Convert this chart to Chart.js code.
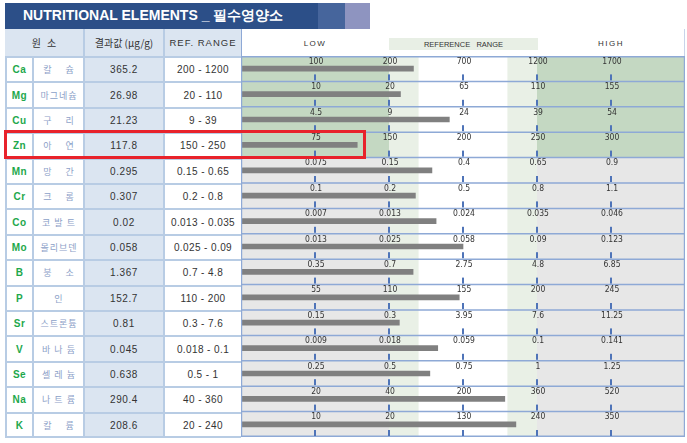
<!DOCTYPE html>
<html>
<head>
<meta charset="utf-8">
<script src="https://cdn.jsdelivr.net/npm/chart.js@4/dist/chart.umd.min.js"></script>
<style>
body{margin:0;background:#fff;width:687px;height:443px;position:relative;overflow:hidden;font-family:"Liberation Sans",Arial,sans-serif;}
.abs{position:absolute;box-sizing:border-box;}
.cell{position:absolute;box-sizing:border-box;display:flex;align-items:center;justify-content:center;white-space:pre;}
</style>
</head>
<body>
<div id="page"></div>
<canvas id="canvas" width="444" height="381" style="position:absolute;left:241px;top:56px;"></canvas>
<div class="abs" style="left:4px;top:130px;width:362px;height:29px;border:3px solid #e8222b;"></div>
<script>
// element rows
var symbols = ['Ca','Mg','Cu','Zn','Mn','Cr','Co','Mo','B','P','Sr','V','Se','Na','K'];
var names = ['칼슘','마그네슘','구리','아연','망간','크롬','코발트','몰리브덴','붕소','인','스트론튬','바나듐','셀레늄','나트륨','칼륨'];
var results = [365.2, 26.98, 21.23, 117.8, 0.295, 0.307, 0.02, 0.058, 1.367, 152.7, 0.81, 0.045, 0.638, 290.4, 208.6];
var ranges = ['200 - 1200','20 - 110','9 - 39','150 - 250','0.15 - 0.65','0.2 - 0.8','0.013 - 0.035','0.025 - 0.09','0.7 - 4.8','110 - 200','0.3 - 7.6','0.018 - 0.1','0.5 - 1','40 - 360','20 - 240'];
// the 5 marks drawn on each row (LOW .. HIGH)
var tickLabels = [
    [100, 200, 700, 1200, 1700],
    [10, 20, 65, 110, 155],
    [4.5, 9, 24, 39, 54],
    [75, 150, 200, 250, 300],
    [0.075, 0.15, 0.4, 0.65, 0.9],
    [0.1, 0.2, 0.5, 0.8, 1.1],
    [0.007, 0.013, 0.024, 0.035, 0.046],
    [0.013, 0.025, 0.058, 0.09, 0.123],
    [0.35, 0.7, 2.75, 4.8, 6.85],
    [55, 110, 155, 200, 245],
    [0.15, 0.3, 3.95, 7.6, 11.25],
    [0.009, 0.018, 0.059, 0.1, 0.141],
    [0.25, 0.5, 0.75, 1, 1.25],
    [20, 40, 200, 360, 520],
    [10, 20, 130, 240, 350]
];
var greenRows = ['Ca','Mg','Cu','Zn'];

// value -> position on the 0..6 axis (piecewise between the row marks)
function toUnit(v, t){
    var stops = [0].concat(t);
    for (var k = 1; k < stops.length; k++){
        if (v <= stops[k]) return (k - 1) + (v - stops[k-1]) / (stops[k] - stops[k-1]);
    }
    var n = stops.length - 1;
    return Math.min(6, n + (v - stops[n]) / (stops[n] - stops[n-1]));
}
var positions = results.map(function(v, i){ return toUnit(v, tickLabels[i]); });

// ---- html table part ----
var page = document.getElementById('page');
function box(x, y, w, h, style, text){
    var d = document.createElement('div');
    d.className = 'cell';
    d.style.cssText += 'left:'+x+'px;top:'+y+'px;width:'+w+'px;height:'+h+'px;' + (style || '');
    if (text !== undefined) d.textContent = text;
    page.appendChild(d);
    return d;
}
// title bar
box(5, 3, 313, 26, 'background:#2c4f88;color:#fff;font-weight:bold;font-size:14px;justify-content:flex-start;padding-left:18px;', 'NUTRITIONAL ELEMENTS _ 필수영양소');
box(318, 3, 27, 26, 'background:#46659c;');
box(345, 3, 25, 26, 'background:#8e94c0;');

// header row
var lineC = '#b8cce4';
var headY = 29, headH = 27;
box(5, headY, 78, headH, 'background:#dbe5f1;font-size:10px;color:#333;letter-spacing:6px;padding-left:6px;font-family:"Noto Sans CJK KR";', '원소');
box(83, headY, 80, headH, 'background:#dbe5f1;font-size:10px;color:#333;border-left:2px solid '+lineC+';font-family:"Noto Sans CJK KR";', '결과값 (μg/g)');
box(163, headY, 78, headH, 'background:#dbe5f1;font-size:9.5px;color:#333;letter-spacing:1px;border-left:2px solid '+lineC+';', 'REF. RANGE');
box(241, headY, 444, headH, 'background:#fff;border-left:1px solid #8ea9d6;border-right:1px solid #c8d4ea;');
box(389, 38, 149, 12, 'background:#e8efe5;font-size:7.5px;color:#333;', 'REFERENCE   RANGE');
box(285, 36, 60, 14, 'font-size:8px;color:#333;letter-spacing:1.5px;', 'LOW');
box(581, 36, 60, 14, 'font-size:8px;color:#333;letter-spacing:1.5px;', 'HIGH');

// data rows
var rowTop = 56, rowH = 381 / symbols.length;
var spacing = {1: 0, 2: 14, 3: 4, 4: 1};
symbols.forEach(function(s, i){
    var y = rowTop + i * rowH;
    var bt = 'border-top:2px solid ' + lineC + ';';
    box(5, y, 27, rowH, bt + 'border-left:2px solid '+lineC+';color:#1ea84c;font-weight:bold;font-size:10px;letter-spacing:0.5px;', s);
    var sp = spacing[names[i].length];
    box(32, y, 51, rowH, bt + 'border-left:2px solid '+lineC+';color:#8ca1c8;font-size:9px;font-family:"Noto Sans CJK KR";letter-spacing:'+sp+'px;padding-left:'+sp+'px;', names[i]);
    box(83, y, 80, rowH, bt + 'border-left:2px solid '+lineC+';background:#dbe5f1;color:#333;font-size:10px;letter-spacing:0.6px;', String(results[i]));
    box(163, y, 78, rowH, bt + 'border-left:2px solid '+lineC+';color:#333;font-size:10px;letter-spacing:0.4px;', ranges[i]);
});
box(5, rowTop + 381 - 1, 236, 2, 'background:' + lineC + ';');

// ---- chart part ----
var rowsPlugin = {
    id: 'rows',
    beforeDatasetsDraw: function(chart){
        var ctx = chart.ctx, x = chart.scales.x, y = chart.scales.y;
        var h = chart.chartArea.height / symbols.length;
        symbols.forEach(function(s, i){
            var top = y.getPixelForValue(i) - h / 2;
            var shade = greenRows.indexOf(s) >= 0 ? '#c4d8c2' : '#e7e7e7';
            var bands = [[0, 2, shade], [2, 2.4, '#e9f0e6'], [3.6, 4, '#e9f0e6'], [4, 6, shade]];
            bands.forEach(function(b){
                var x0 = x.getPixelForValue(b[0]), x1 = x.getPixelForValue(b[1]);
                ctx.fillStyle = b[2];
                ctx.fillRect(x0, top, x1 - x0, h + 0.5);
            });
        });
    },
    afterDatasetsDraw: function(chart){
        var ctx = chart.ctx, x = chart.scales.x, y = chart.scales.y, a = chart.chartArea;
        var h = a.height / symbols.length;
        ctx.save();
        // row lines
        ctx.strokeStyle = '#8ea9d6';
        ctx.lineWidth = 1.5;
        for (var i = 0; i <= symbols.length; i++){
            var ly = Math.min(a.bottom - 0.75, Math.max(a.top + 0.75, a.top + i * h));
            ctx.beginPath(); ctx.moveTo(a.left, ly); ctx.lineTo(a.right, ly); ctx.stroke();
        }
        ctx.lineWidth = 1.2;
        ctx.beginPath(); ctx.moveTo(a.left + 0.6, a.top); ctx.lineTo(a.left + 0.6, a.bottom); ctx.stroke();
        ctx.beginPath(); ctx.moveTo(a.right - 0.6, a.top); ctx.lineTo(a.right - 0.6, a.bottom); ctx.stroke();
        // marks + labels
        ctx.font = '8.5px "DejaVu Sans Condensed"';
        ctx.textAlign = 'center';
        ctx.textBaseline = 'middle';
        symbols.forEach(function(s, i){
            var top = y.getPixelForValue(i) - h / 2;
            tickLabels[i].forEach(function(t, k){
                var px = x.getPixelForValue(k + 1);
                ctx.fillStyle = '#4f74b8';
                ctx.fillRect(px - 1, top + h - 7, 2, 6);
                ctx.fillStyle = '#333';
                ctx.fillText(String(t), px + 1, top + 5.5);
            });
        });
        ctx.restore();
    }
};

new Chart(document.getElementById('canvas'), {
    type: 'bar',
    data: {
        labels: symbols,
        datasets: [{
            data: positions,
            backgroundColor: '#808080',
            borderWidth: 0,
            barThickness: 5
        }]
    },
    options: {
        indexAxis: 'y',
        responsive: false,
        animation: false,
        devicePixelRatio: 1,
        layout: { padding: 0 },
        plugins: {
            legend: { display: false },
            tooltip: { enabled: false }
        },
        scales: {
            x: { type: 'linear', min: 0, max: 6, display: false },
            y: { display: false }
        }
    },
    plugins: [rowsPlugin]
});
</script>
</body>
</html>
